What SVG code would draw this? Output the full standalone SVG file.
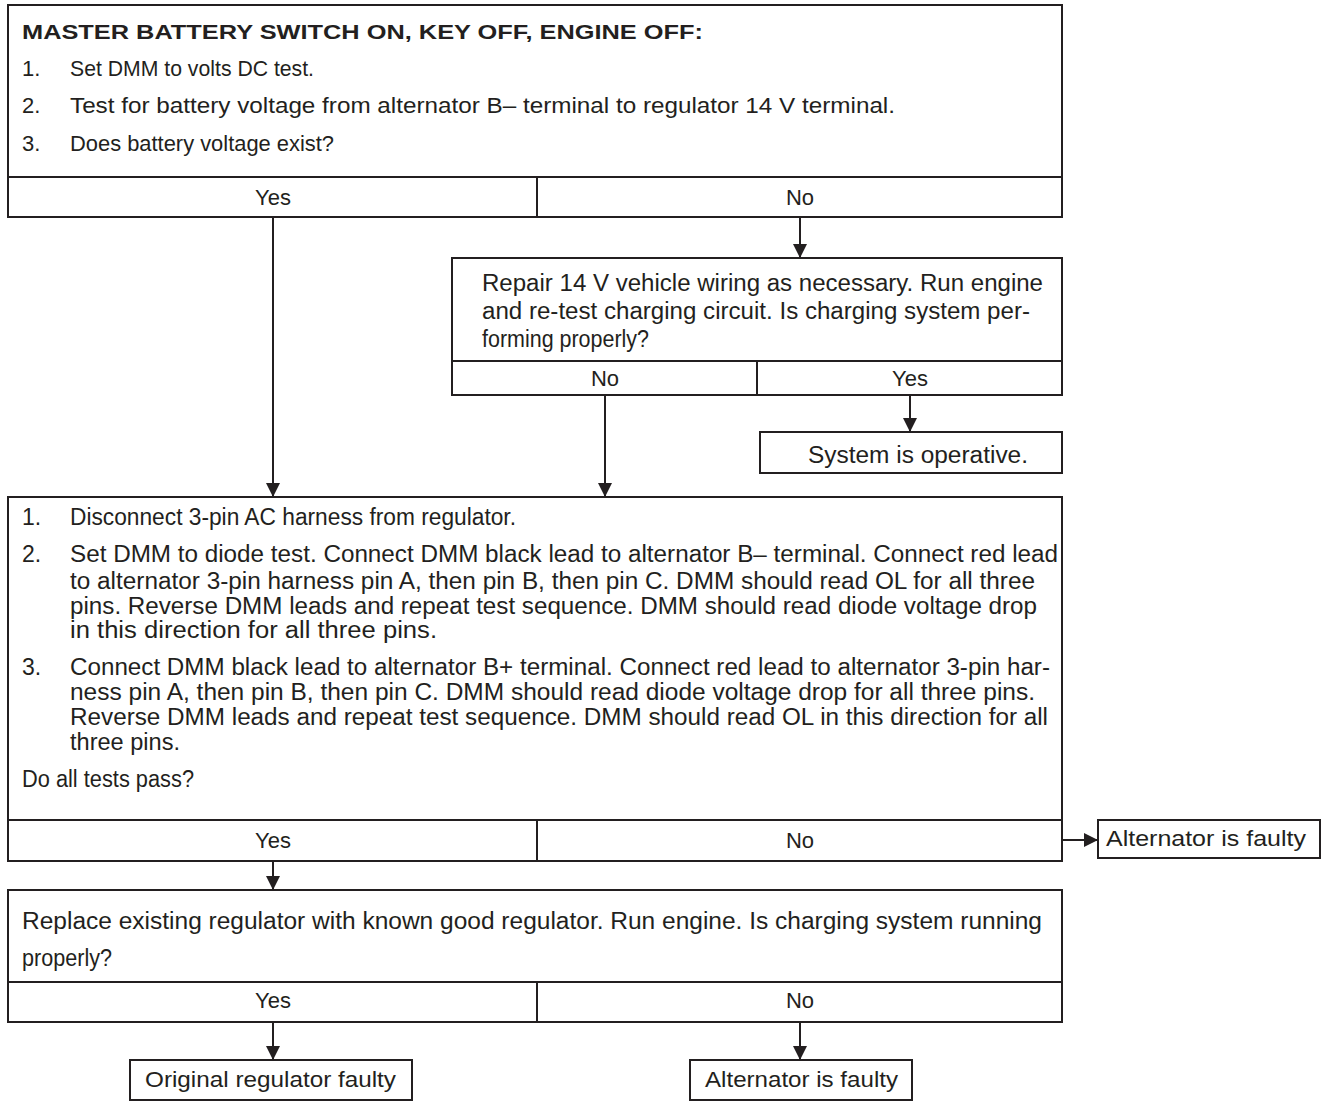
<svg xmlns="http://www.w3.org/2000/svg" width="1322" height="1103" viewBox="0 0 1322 1103">
<style>
.box{fill:#fff;stroke:#231f20;stroke-width:2}
.ln{stroke:#231f20;stroke-width:2;fill:none}
.t{font-family:"Liberation Sans",Arial,sans-serif;font-size:22px;fill:#231f20}
.k{font-size:23px}
.c{text-anchor:middle}
.b{font-weight:bold;font-size:20px}
.con{stroke:#231f20;stroke-width:2;fill:none;marker-end:url(#ah)}
</style>
<defs>
<marker id="ah" markerUnits="userSpaceOnUse" markerWidth="16" markerHeight="16" refX="14" refY="7" orient="auto">
<path d="M0,0 L14,7 L0,14 z" fill="#231f20"/>
</marker>
</defs>
<rect width="1322" height="1103" fill="#fff"/>
<g id="connectors">
<line class="con" x1="273" y1="217" x2="273" y2="497"/>
<line class="con" x1="800" y1="217" x2="800" y2="258"/>
<line class="con" x1="605" y1="395" x2="605" y2="497"/>
<line class="con" x1="910" y1="395" x2="910" y2="432"/>
<line class="con" x1="1062" y1="840" x2="1098" y2="840"/>
<line class="con" x1="273" y1="861" x2="273" y2="890"/>
<line class="con" x1="273" y1="1022" x2="273" y2="1060"/>
<line class="con" x1="800" y1="1022" x2="800" y2="1060"/>
</g>
<g id="n1">
<rect class="box" x="8" y="5" width="1054" height="212"/>
<line class="ln" x1="8" y1="177" x2="1062" y2="177"/>
<line class="ln" x1="537" y1="177" x2="537" y2="217"/>
<text class="t b" x="22" y="39" textLength="681" lengthAdjust="spacingAndGlyphs">MASTER BATTERY SWITCH ON, KEY OFF, ENGINE OFF:</text>
<text class="t" x="22" y="76">1.</text>
<text class="t" x="70" y="76" textLength="244" lengthAdjust="spacingAndGlyphs">Set DMM to volts DC test.</text>
<text class="t" x="22" y="113">2.</text>
<text class="t" x="70" y="113" textLength="825" lengthAdjust="spacingAndGlyphs">Test for battery voltage from alternator B– terminal to regulator 14 V terminal.</text>
<text class="t" x="22" y="151">3.</text>
<text class="t" x="70" y="151" textLength="264" lengthAdjust="spacingAndGlyphs">Does battery voltage exist?</text>
<text class="t c" x="273" y="205">Yes</text>
<text class="t c" x="800" y="205">No</text>
</g>
<g id="n2">
<rect class="box" x="452" y="258" width="610" height="137"/>
<line class="ln" x1="452" y1="361" x2="1062" y2="361"/>
<line class="ln" x1="757" y1="361" x2="757" y2="395"/>
<text class="t k" x="482" y="291" textLength="561" lengthAdjust="spacingAndGlyphs">Repair 14 V vehicle wiring as necessary. Run engine</text>
<text class="t k" x="482" y="319" textLength="548" lengthAdjust="spacingAndGlyphs">and re-test charging circuit. Is charging system per-</text>
<text class="t k" x="482" y="347" textLength="167" lengthAdjust="spacingAndGlyphs">forming properly?</text>
<text class="t c" x="605" y="386">No</text>
<text class="t c" x="910" y="386">Yes</text>
</g>
<g id="n3">
<rect class="box" x="760" y="432" width="302" height="41"/>
<text class="t k" x="808" y="463" textLength="220" lengthAdjust="spacingAndGlyphs">System is operative.</text>
</g>
<g id="n4">
<rect class="box" x="8" y="497" width="1054" height="364"/>
<line class="ln" x1="8" y1="820" x2="1062" y2="820"/>
<line class="ln" x1="537" y1="820" x2="537" y2="861"/>
<text class="t k" x="22" y="525">1.</text>
<text class="t k" x="70" y="525" textLength="446" lengthAdjust="spacingAndGlyphs">Disconnect 3-pin AC harness from regulator.</text>
<text class="t k" x="22" y="562">2.</text>
<text class="t k" x="70" y="562" textLength="988" lengthAdjust="spacingAndGlyphs">Set DMM to diode test. Connect DMM black lead to alternator B– terminal. Connect red lead</text>
<text class="t k" x="70" y="589" textLength="965" lengthAdjust="spacingAndGlyphs">to alternator 3-pin harness pin A, then pin B, then pin C. DMM should read OL for all three</text>
<text class="t k" x="70" y="614" textLength="967" lengthAdjust="spacingAndGlyphs">pins. Reverse DMM leads and repeat test sequence. DMM should read diode voltage drop</text>
<text class="t k" x="70" y="638" textLength="367" lengthAdjust="spacingAndGlyphs">in this direction for all three pins.</text>
<text class="t k" x="22" y="675">3.</text>
<text class="t k" x="70" y="675" textLength="980" lengthAdjust="spacingAndGlyphs">Connect DMM black lead to alternator B+ terminal. Connect red lead to alternator 3-pin har-</text>
<text class="t k" x="70" y="700" textLength="965" lengthAdjust="spacingAndGlyphs">ness pin A, then pin B, then pin C. DMM should read diode voltage drop for all three pins.</text>
<text class="t k" x="70" y="725" textLength="978" lengthAdjust="spacingAndGlyphs">Reverse DMM leads and repeat test sequence. DMM should read OL in this direction for all</text>
<text class="t k" x="70" y="750" textLength="110" lengthAdjust="spacingAndGlyphs">three pins.</text>
<text class="t k" x="22" y="787" textLength="172" lengthAdjust="spacingAndGlyphs">Do all tests pass?</text>
<text class="t c" x="273" y="848">Yes</text>
<text class="t c" x="800" y="848">No</text>
</g>
<g id="n5">
<rect class="box" x="1098" y="820" width="222" height="38"/>
<text class="t" x="1106" y="846" textLength="200" lengthAdjust="spacingAndGlyphs">Alternator is faulty</text>
</g>
<g id="n6">
<rect class="box" x="8" y="890" width="1054" height="132"/>
<line class="ln" x1="8" y1="982" x2="1062" y2="982"/>
<line class="ln" x1="537" y1="982" x2="537" y2="1022"/>
<text class="t k" x="22" y="929" textLength="1020" lengthAdjust="spacingAndGlyphs">Replace existing regulator with known good regulator. Run engine. Is charging system running</text>
<text class="t k" x="22" y="966" textLength="90" lengthAdjust="spacingAndGlyphs">properly?</text>
<text class="t c" x="273" y="1008">Yes</text>
<text class="t c" x="800" y="1008">No</text>
</g>
<g id="n7">
<rect class="box" x="130" y="1060" width="282" height="40"/>
<text class="t" x="145" y="1087" textLength="251" lengthAdjust="spacingAndGlyphs">Original regulator faulty</text>
</g>
<g id="n8">
<rect class="box" x="690" y="1060" width="222" height="40"/>
<text class="t" x="705" y="1087" textLength="193" lengthAdjust="spacingAndGlyphs">Alternator is faulty</text>
</g>
</svg>
